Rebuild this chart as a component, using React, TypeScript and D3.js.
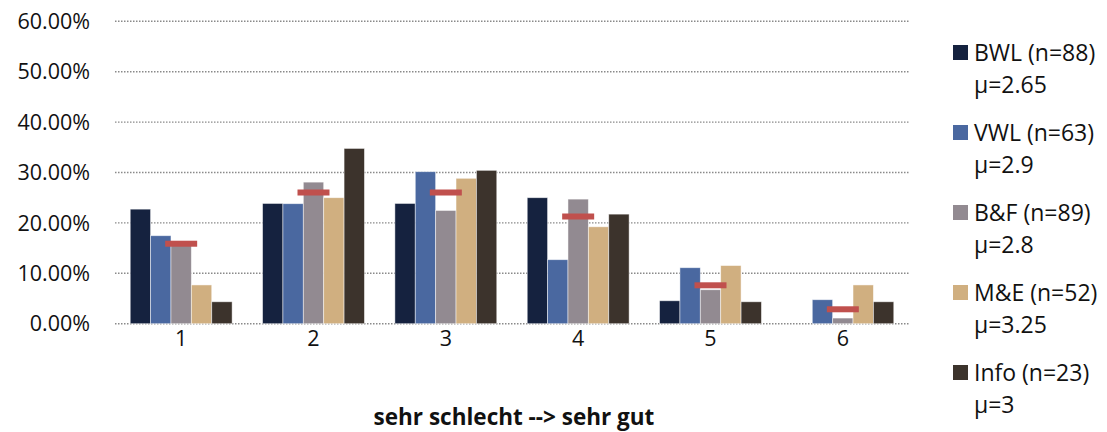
import * as React from "react";
import * as d3 from "d3";

const categories = ["1", "2", "3", "4", "5", "6"];
const seriesNames = ["BWL (n=88)", "VWL (n=63)", "B&F (n=89)", "M&E (n=52)", "Info (n=23)"];
const seriesMeans = ["μ=2.65", "μ=2.9", "μ=2.8", "μ=3.25", "μ=3"];
const seriesColors = ["#15223f", "#4a68a0", "#928a91", "#d0af80", "#3c332c"];

// share per rating (fraction), one array per series
const bwl = [0.2273, 0.2386, 0.2386, 0.25, 0.0455, 0];
const vwl = [0.1746, 0.2381, 0.3016, 0.127, 0.1111, 0.0476];
const bf = [0.1573, 0.2809, 0.2247, 0.2472, 0.0674, 0.0112];
const me = [0.0769, 0.25, 0.2885, 0.1923, 0.1154, 0.0769];
const info = [0.0435, 0.3478, 0.3043, 0.2174, 0.0435, 0.0435];
const seriesValues = [bwl, vwl, bf, me, info];

// overall share (red markers)
const overall = [0.1587, 0.2603, 0.2603, 0.2127, 0.0762, 0.0286];

const yTicks = [0, 0.1, 0.2, 0.3, 0.4, 0.5, 0.6];

const W = 1107;
const H = 432;
const FONT = "'Open Sans', 'DejaVu Sans', sans-serif";

export default function App() {
  const x0 = d3.scaleBand<string>().domain(categories).range([115, 909]).paddingInner(0.23).paddingOuter(0.115);
  const x1 = d3
    .scaleBand<number>()
    .domain(d3.range(seriesNames.length))
    .range([0, x0.bandwidth()]);
  const y = d3.scaleLinear().domain([0, 0.6]).range([323.7, 21.3]);
  const fmt = (v: number) => (v * 100).toFixed(2) + "%";

  return (
    <svg
      width={W}
      height={H}
      viewBox={`0 0 ${W} ${H}`}
      style={{ position: "absolute", left: 0, top: 0, background: "#fff" }}
    >
      {/* gridlines */}
      {yTicks.map((t) => (
        <line
          key={t}
          x1={115}
          x2={909}
          y1={y(t)}
          y2={y(t)}
          stroke="#8a8a8a"
          strokeWidth={1.4}
          strokeDasharray="1.5 1.5"
        />
      ))}
      {yTicks.map((t) => (
        <text
          key={"l" + t}
          x={90}
          y={y(t)}
          dy="0.36em"
          textAnchor="end"
          fontSize={21.5}
          fontFamily={FONT}
          fill="#111"
        >
          {fmt(t)}
        </text>
      ))}

      {/* bars */}
      {categories.map((c, ci) => (
        <g key={c} transform={`translate(${x0(c)},0)`}>
          {seriesValues.map((vals, si) =>
            vals[ci] > 0 ? (
              <rect
                key={si}
                x={x1(si)}
                y={y(vals[ci])}
                width={x1.bandwidth()}
                height={y(0) - y(vals[ci])}
                fill={seriesColors[si]}
                stroke="#ffffff"
                strokeOpacity={0.6}
                strokeWidth={0.8}
              />
            ) : null
          )}
        </g>
      ))}

      {/* overall markers */}
      {categories.map((c, ci) => (
        <rect
          key={"m" + c}
          x={(x0(c) ?? 0) + x0.bandwidth() / 2 - 16}
          y={y(overall[ci]) - 3}
          width={32}
          height={6}
          fill="#c0504d"
        />
      ))}

      {/* x labels */}
      {categories.map((c) => (
        <text
          key={"x" + c}
          x={(x0(c) ?? 0) + x0.bandwidth() / 2}
          y={346}
          textAnchor="middle"
          fontSize={21.5}
          fontFamily={FONT}
          fill="#111"
        >
          {c}
        </text>
      ))}
      <text
        x={514}
        y={425}
        textAnchor="middle"
        fontSize={22.5}
        fontWeight="bold"
        fontFamily={FONT}
        fill="#111"
      >
        sehr schlecht --&gt; sehr gut
      </text>

      {/* legend */}
      {seriesNames.map((name, i) => {
        const top = 45 + i * 80;
        return (
          <g key={name}>
            <rect x={953} y={top} width={15} height={15} fill={seriesColors[i]} />
            <text x={974} y={top + 15.5} fontSize={23} fontFamily={FONT} fill="#111">
              {name}
            </text>
            <text x={974} y={top + 48} fontSize={23} fontFamily={FONT} fill="#111">
              {seriesMeans[i]}
            </text>
          </g>
        );
      })}
    </svg>
  );
}
